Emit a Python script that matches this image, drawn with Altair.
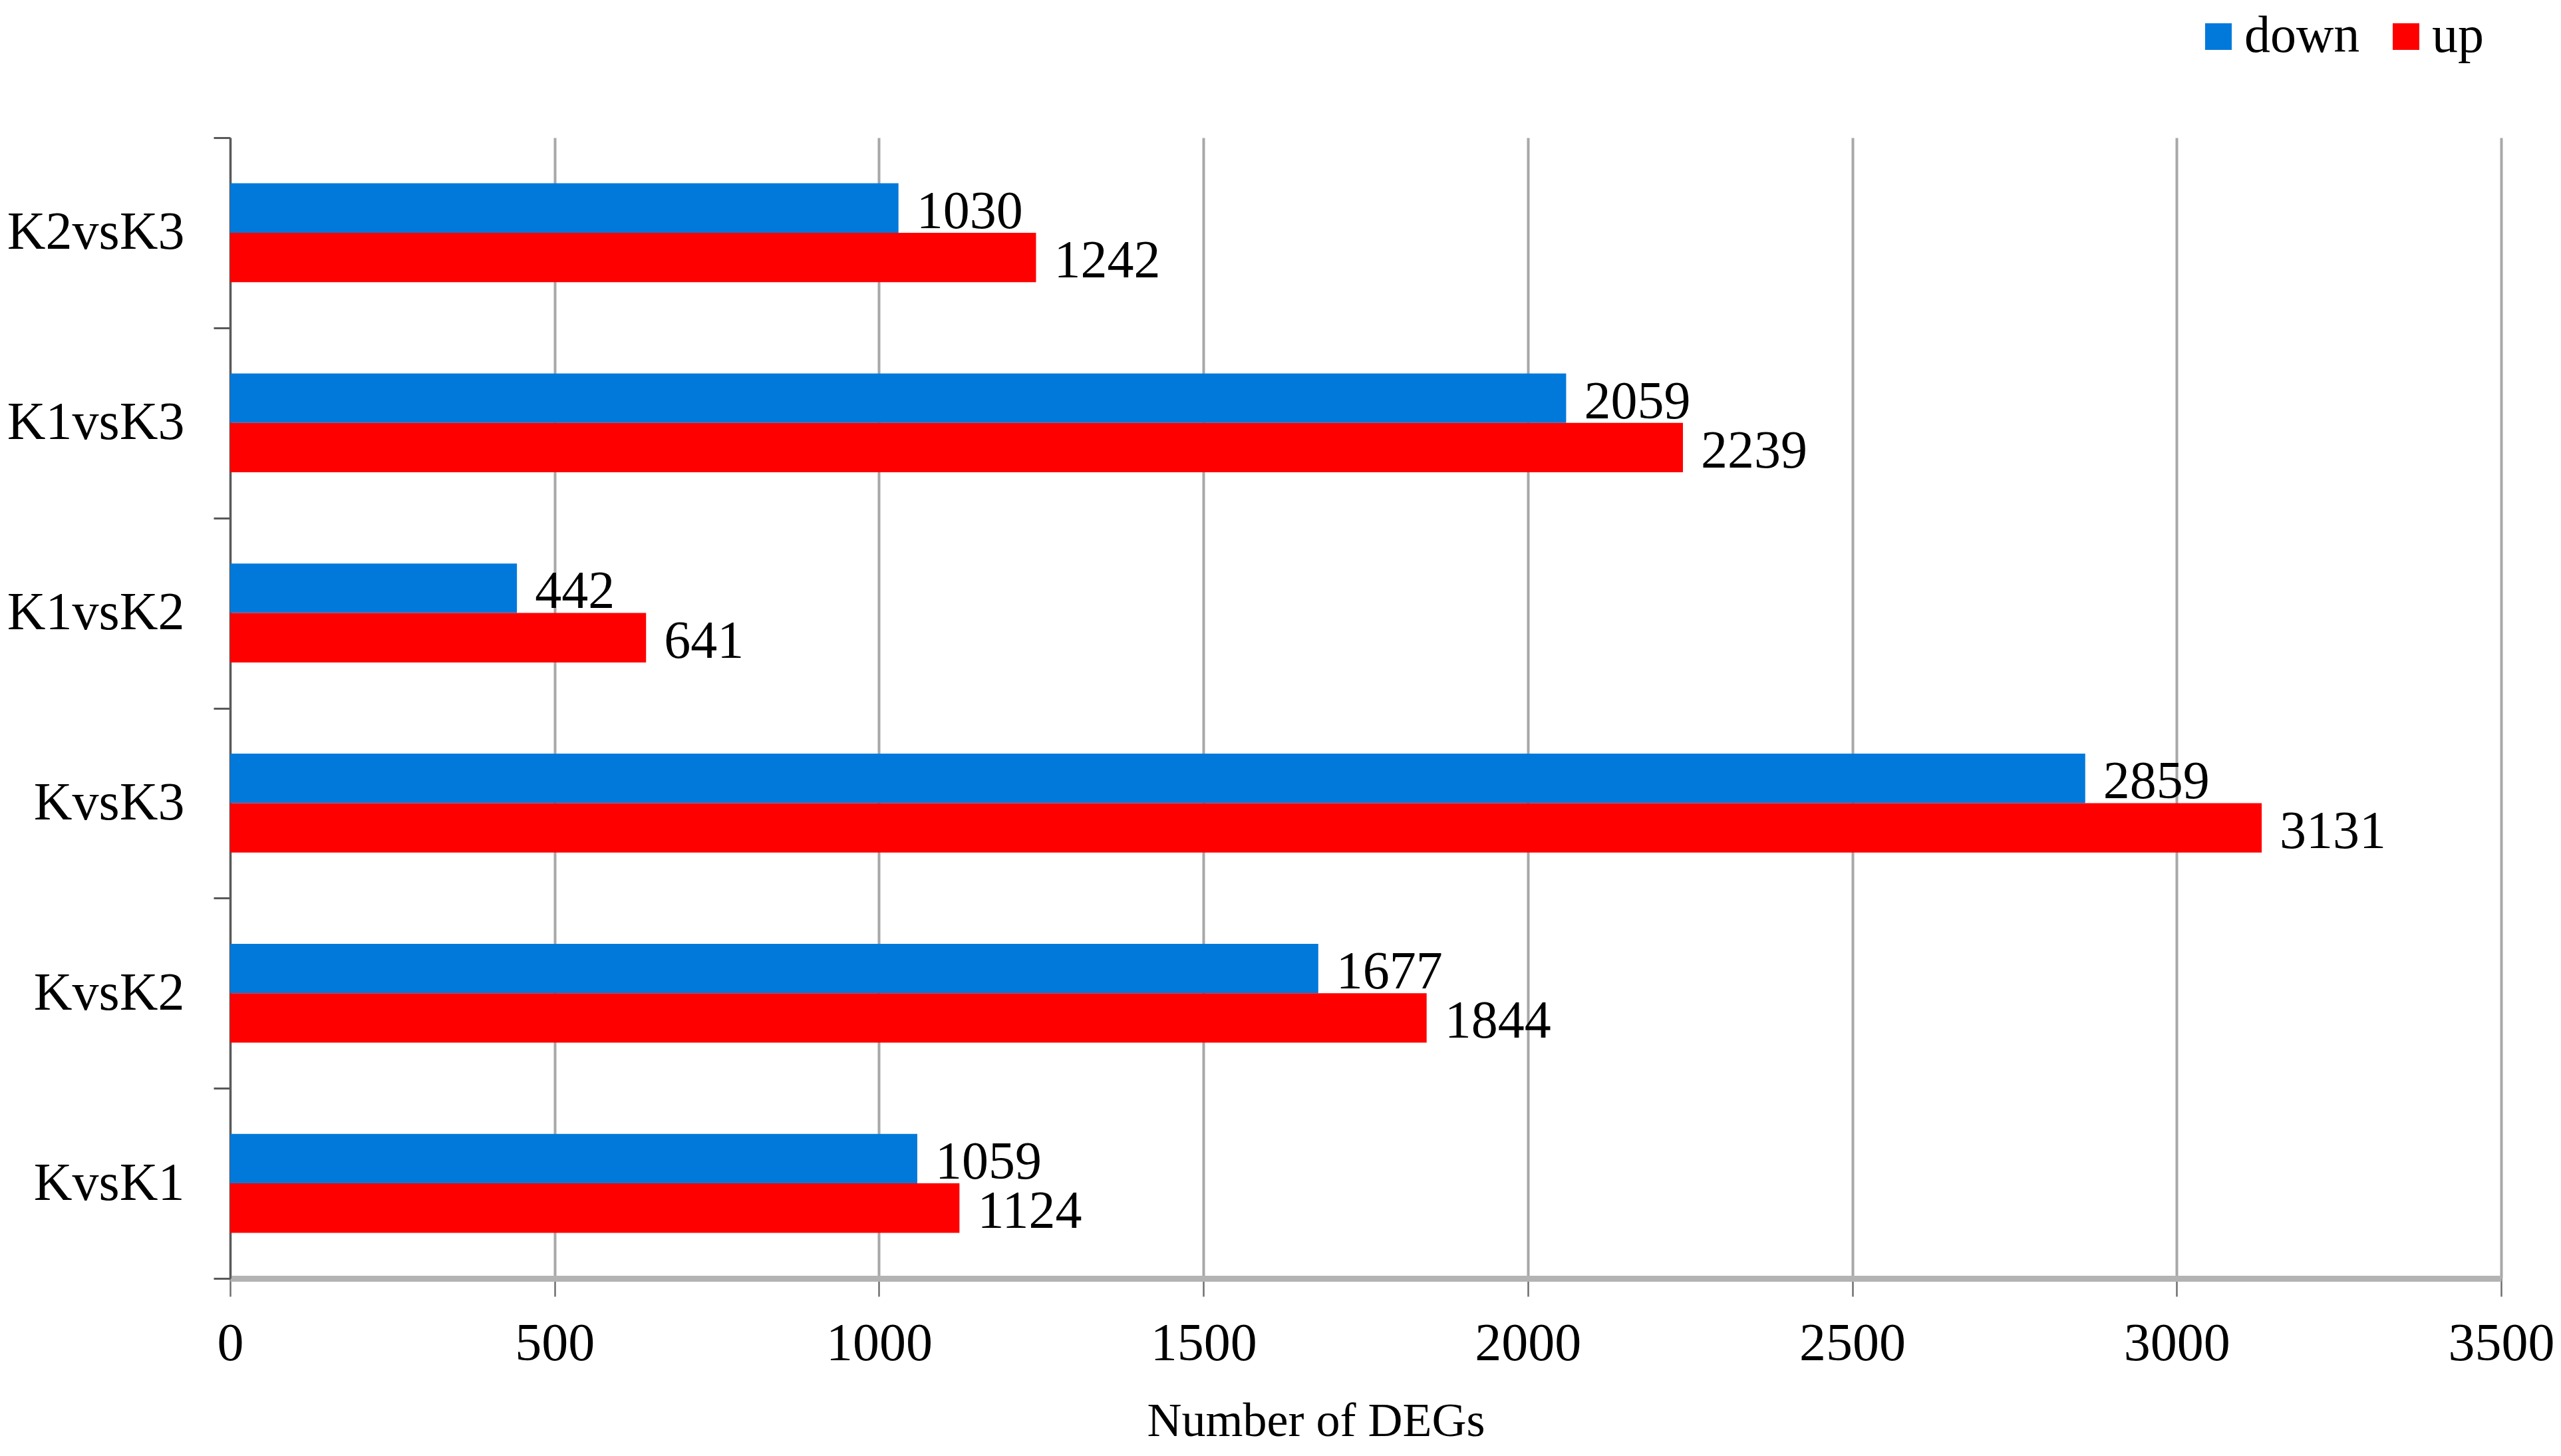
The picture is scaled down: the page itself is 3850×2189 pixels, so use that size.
import altair as alt
import pandas as pd

categories = ["K2vsK3", "K1vsK3", "K1vsK2", "KvsK3", "KvsK2", "KvsK1"]
down_values = [1030, 2059, 442, 2859, 1677, 1059]
up_values = [1242, 2239, 641, 3131, 1844, 1124]
series = ["down", "up"]
colors = ["#0079DB", "#FF0000"]
x_ticks = [0, 500, 1000, 1500, 2000, 2500, 3000, 3500]

rows = []
for c, d, u in zip(categories, down_values, up_values):
    rows.append({"comparison": c, "direction": "down", "count": d})
    rows.append({"comparison": c, "direction": "up", "count": u})
df = pd.DataFrame(rows)

FONT = "Liberation Serif"

y_enc = alt.Y(
    "comparison:N",
    sort=categories,
    scale=alt.Scale(paddingInner=0, paddingOuter=0),
    axis=alt.Axis(
        title=None,
        tickBand="extent",
        labelFont=FONT,
        labelFontSize=80,
        labelColor="black",
        labelPadding=44,
        labelLimit=600,
        tickSize=25,
        tickColor="#595959",
        tickWidth=3,
        domainColor="#595959",
        domainWidth=3,
        grid=False,
    ),
)
yoff_enc = alt.YOffset("direction:N", sort=series, scale=alt.Scale(paddingInner=0, paddingOuter=0.923))
x_enc = alt.X(
    "count:Q",
    scale=alt.Scale(domain=[0, 3500], nice=False),
    axis=alt.Axis(
        values=x_ticks,
        format="d",
        title="Number of DEGs",
        titleFont=FONT,
        titleFontSize=72,
        titleFontWeight="normal",
        titleColor="black",
        titleX=1632,
        titleY=236,
        titleBaseline="alphabetic",
        titleAlign="center",
        labelFont=FONT,
        labelFontSize=80,
        labelColor="black",
        labelPadding=32,
        labelLimit=600,
        labelFlush=False,
        labelOverlap=False,
        tickSize=27,
        tickColor="#6e6e6e",
        tickWidth=2.5,
        domainColor="#b3b3b3",
        domainWidth=9,
        grid=True,
        gridColor="#a8a8a8",
        gridWidth=4,
    ),
)

color_enc = alt.Color(
    "direction:N",
    sort=series,
    scale=alt.Scale(domain=series, range=colors),
    legend=alt.Legend(
        title=None,
        orient="none",
        legendX=2950,
        legendY=-191,
        direction="horizontal",
        columns=2,
        labelFont=FONT,
        labelFontSize=78,
        labelColor="black",
        labelLimit=600,
        labelOffset=0,
        symbolType="square",
        symbolSize=1600,
        symbolStrokeWidth=0,
        symbolOpacity=1,
        columnPadding=30,
        padding=0,
    ),
)

bars = alt.Chart(df).mark_bar().encode(x=x_enc, y=y_enc, yOffset=yoff_enc, color=color_enc)
labels = alt.Chart(df).mark_text(
    align="left", baseline="middle", dx=27, dy=6, fontSize=80, font=FONT, color="black"
).encode(x="count:Q", y=alt.Y("comparison:N", sort=categories), yOffset=alt.YOffset("direction:N", sort=series), text="count:Q")

chart = (
    alt.layer(bars, labels)
    .properties(
        width=3414,
        height=1715,
        autosize=alt.AutoSizeParams(type="none"),
        padding={"left": 338, "top": 199, "right": 82, "bottom": 252},
        background="white",
    )
    .configure_view(stroke=None)
)

chart.save("out.html", embed_options={"renderer": "svg", "actions": False})
